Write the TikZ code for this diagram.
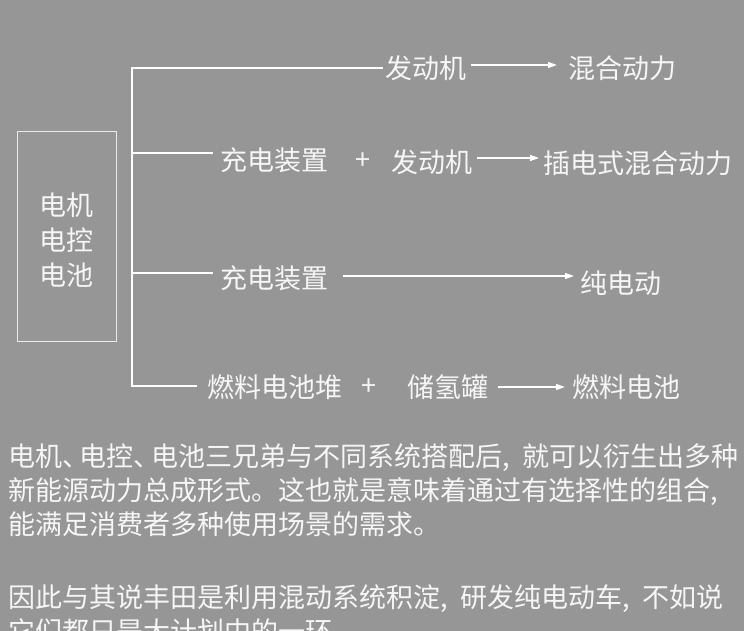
\documentclass[tikz,border=0pt]{standalone}
\usepackage{fontspec}
\newfontfamily\cjk{Noto Sans CJK SC}
\usetikzlibrary{arrows.meta,positioning}
\definecolor{bggray}{RGB}{150,150,150}
\definecolor{inkwhite}{RGB}{246,246,246}
% narrower list mark, wider comma, as in the printed text
\newcommand\dunhao{、\kern-0.35em}
\newcommand\douhao{,\kern0.24em\ }
\tikzset{
  >={Triangle[length=9pt,width=6pt]},
  line join=miter,
  lbl/.style={anchor=west, inner sep=0pt, text=inkwhite, font=\cjk\fontsize{27}{27}\selectfont},
  para/.style={anchor=base west, inner sep=0pt, text=inkwhite, font=\cjk\fontsize{27}{34}\selectfont},
  corebox/.style={draw=white!80!bggray, line width=1pt, minimum width=99pt, minimum height=209pt},
  coretext/.style={align=center, inner sep=0pt, text=inkwhite, font=\cjk\fontsize{27}{35}\selectfont},
  branch/.style={draw=white, line width=1.8pt},
  arrow/.style={->, draw=white, line width=1.4pt}
}
\begin{document}
\begin{tikzpicture}[x=1pt,y=-1pt]
  \useasboundingbox (0,0) rectangle (744,631);
  \fill[bggray] (0,0) rectangle (744,631);
  \clip (0,0) rectangle (744,631);

  % the three parts
  \node[corebox] (core) at (66.5,236.5) {};
  \node[coretext] (coretxt) at ([yshift=-3.5pt]core.center) {电机\\电控\\电池};

  % joints on the trunk
  \coordinate (j1) at (132,68);
  \coordinate (j2) at (132,153);
  \coordinate (j3) at (132,273);
  \coordinate (j4) at (132,386);

  % rows
  \node[lbl] (eng1) at (385,68) {发动机};
  \node[lbl] (hyb) at (568,68) {混合动力};

  \node[lbl] (chg1) at (220,160) {充电装置};
  \node[lbl,anchor=center] (plus1) at (363,161) {+};
  \node[lbl] (eng2) at (391,162) {发动机};
  \node[lbl] (phev) at (543,163) {插电式混合动力};

  \node[lbl] (chg2) at (220,278) {充电装置};
  \node[lbl] (pure) at (580,283) {纯电动};

  \node[lbl] (stack) at (207,387) {燃料电池堆};
  \node[lbl,anchor=center] (plus2) at (369,387) {+};
  \node[lbl] (tank) at (407,387) {储氢罐};
  \node[lbl] (fcell) at (572,387) {燃料电池};

  % trunk and branches
  \draw[branch, shorten <=10pt, shorten >=2pt] (j4 -| stack.west) -- (j4) -- (j1) -- (j1 -| eng1.west);
  \draw[branch, shorten >=7pt] (j2) -- (j2 -| chg1.west);
  \draw[branch, shorten >=7pt] (j3) -- (j3 -| chg2.west);

  % arrows
  \draw[arrow, shorten <=5pt, shorten >=11pt] ([yshift=3pt]eng1.east) -- ([yshift=3pt]eng1.east -| hyb.west);
  \draw[arrow, shorten <=5pt, shorten >=4pt] ([yshift=4pt]eng2.east) -- ([yshift=4pt]eng2.east -| phev.west);
  \draw[arrow, shorten <=15pt, shorten >=6pt] ([yshift=2pt]chg2.east) -- ([yshift=2pt]chg2.east -| pure.west);
  \draw[arrow, shorten <=10pt, shorten >=7pt] (tank.east) -- (tank.east -| fcell.west);

  % text below
  \node[para] (l1) at (8,466) {电机\dunhao 电控\dunhao 电池三兄弟与不同系统搭配后\douhao 就可以衍生出多种};
  \node[para] (l2) at (8,500) {新能源动力总成形式。这也就是意味着通过有选择性的组合,};
  \node[para] (l3) at (8,534) {能满足消费者多种使用场景的需求。};
  \node[para] (l4) at (8,607) {因此与其说丰田是利用混动系统积淀\douhao 研发纯电动车\douhao 不如说};
  \node[para] (l5) at (8,641) {它们都只是大计划中的一环。};
\end{tikzpicture}
\end{document}
